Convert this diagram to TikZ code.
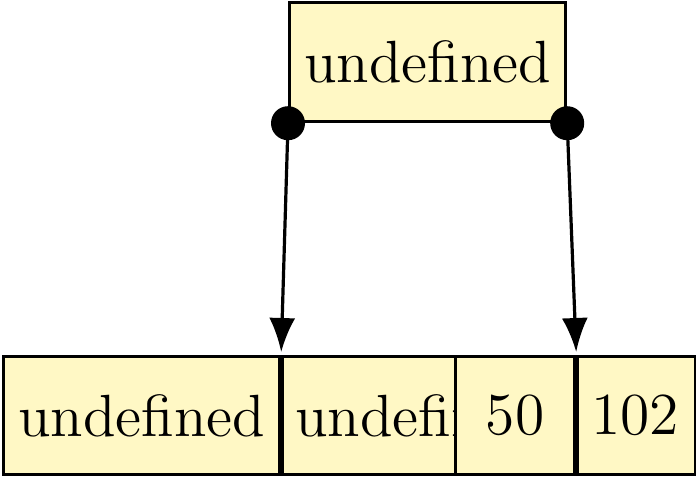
\documentclass[tikz,border=0pt]{standalone}
\usetikzlibrary{arrows.meta}
\definecolor{boxfill}{RGB}{255,248,197}
\begin{document}
\begin{tikzpicture}[x=0.25pt,y=-0.25pt,
  cell/.style={draw=black,fill=boxfill,line width=0.8pt,inner sep=0pt,anchor=north west,
    font=\fontsize{14.9pt}{18pt}\selectfont},
  ptr/.style={line width=0.8pt,-{Latex[length=8.5pt,width=6.5pt]}},
  dot/.style={fill=black,circle,inner sep=0pt,minimum size=8.5pt}]
\useasboundingbox (0,0) rectangle (696,476);
\node[cell,minimum width=69pt,minimum height=29.75pt] (top) at (288,1) {undefined};
\node[cell,minimum width=69pt,minimum height=29.5pt] (b1) at (2,355) {undefined};
\node[cell,minimum width=69pt,minimum height=29.5pt] (b2) at (279,355) {undefined};
\node[cell,minimum width=29.75pt,minimum height=29.5pt] (b3) at (454,355) {50};
\node[cell,minimum width=30.25pt,minimum height=29.5pt] (b4) at (573,355) {102};
\draw[line width=1.2pt] (b1.north east) -- (b1.south east) (b3.north east) -- (b3.south east);
\node[dot] (d1) at (top.south west) {};
\node[dot] (d2) at (top.south east) {};
\draw[ptr] (d1.center) -- ([yshift=0.75pt]b1.north east);
\draw[ptr] (d2.center) -- ([yshift=0.75pt]b3.north east);
\end{tikzpicture}
\end{document}
